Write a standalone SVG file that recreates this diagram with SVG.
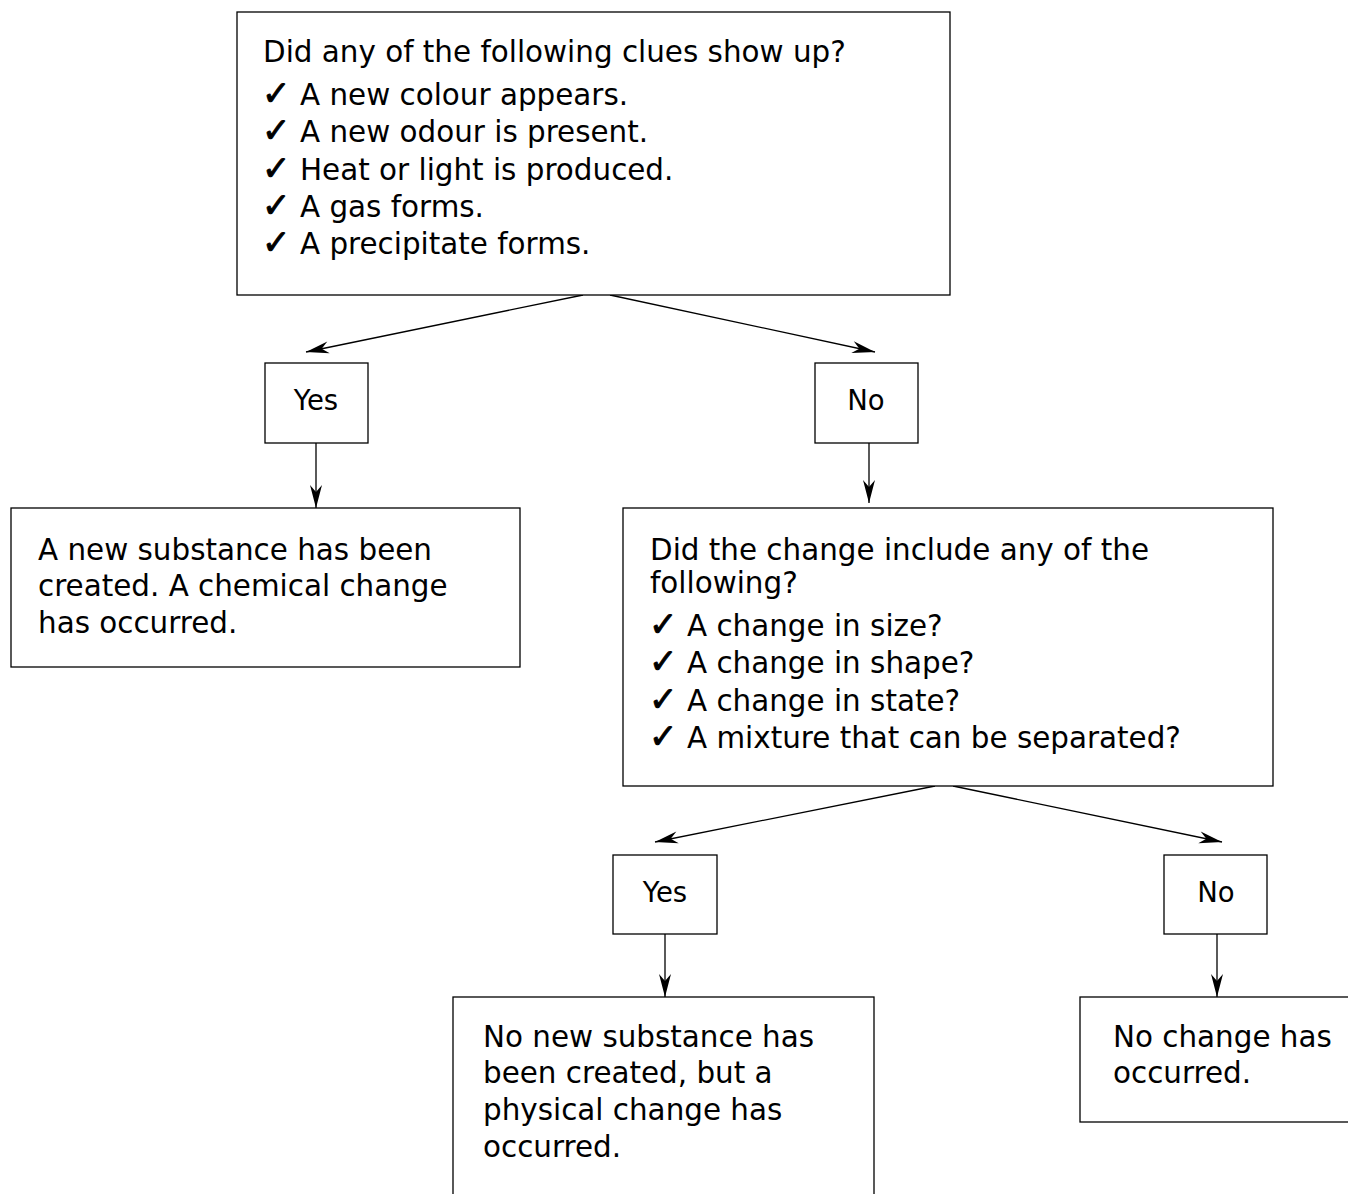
<svg xmlns="http://www.w3.org/2000/svg" width="1348" height="1194" viewBox="0 0 1348 1194">
<style>
  .box { fill: #ffffff; stroke: #000000; stroke-width: 1.3; }
  .t { font-family: "DejaVu Sans", Verdana, sans-serif; font-size: 29.4px; fill: #000000; }
  .ck { font-family: "DejaVu Sans", Verdana, sans-serif; font-size: 34px; stroke: #000000; stroke-width: 1; }
  .yn { font-family: "DejaVu Sans", Verdana, sans-serif; font-size: 27.5px; fill: #000000; text-anchor: middle; }
  .conn { stroke: #000000; stroke-width: 1.3; fill: none; marker-end: url(#arr); }
</style>
<defs>
  <marker id="arr" markerUnits="userSpaceOnUse" viewBox="-24 -7 25 14" refX="0" refY="0" markerWidth="25" markerHeight="14" orient="auto">
    <path d="M0,0 L-23,-6 L-16,0 L-23,6 Z" fill="#000000"/>
  </marker>
</defs>
<rect width="1348" height="1194" fill="#ffffff"/>

<g id="connectors">
  <line class="conn" x1="583" y1="295" x2="306" y2="352"/>
  <line class="conn" x1="610" y1="295" x2="875" y2="352"/>
  <line class="conn" x1="316" y1="443" x2="316" y2="508"/>
  <line class="conn" x1="869" y1="443" x2="869" y2="503"/>
  <line class="conn" x1="935" y1="786" x2="655" y2="842"/>
  <line class="conn" x1="953" y1="786" x2="1222" y2="842"/>
  <line class="conn" x1="665" y1="934" x2="665" y2="997"/>
  <line class="conn" x1="1217" y1="934" x2="1217" y2="997"/>
</g>

<g id="q1">
  <rect class="box" x="237" y="12" width="713" height="283"/>
  <text class="t" x="263" y="62">Did any of the following clues show up?</text>
  <text class="t" y="105"><tspan class="ck" x="262">✓</tspan><tspan x="300">A new colour appears.</tspan></text>
  <text class="t" y="142"><tspan class="ck" x="262">✓</tspan><tspan x="300">A new odour is present.</tspan></text>
  <text class="t" y="180"><tspan class="ck" x="262">✓</tspan><tspan x="300">Heat or light is produced.</tspan></text>
  <text class="t" y="217"><tspan class="ck" x="262">✓</tspan><tspan x="300">A gas forms.</tspan></text>
  <text class="t" y="254"><tspan class="ck" x="262">✓</tspan><tspan x="300">A precipitate forms.</tspan></text>
</g>

<g id="yes1">
  <rect class="box" x="265" y="363" width="103" height="80"/>
  <text class="yn" x="316" y="410">Yes</text>
</g>

<g id="no1">
  <rect class="box" x="815" y="363" width="103" height="80"/>
  <text class="yn" x="866" y="410">No</text>
</g>

<g id="chemical">
  <rect class="box" x="11" y="508" width="509" height="159"/>
  <text class="t" x="38" y="560">A new substance has been</text>
  <text class="t" x="38" y="596">created. A chemical change</text>
  <text class="t" x="38" y="633">has occurred.</text>
</g>

<g id="q2">
  <rect class="box" x="623" y="508" width="650" height="278"/>
  <text class="t" x="650" y="560">Did the change include any of the</text>
  <text class="t" x="650" y="593">following?</text>
  <text class="t" y="636"><tspan class="ck" x="649">✓</tspan><tspan x="687">A change in size?</tspan></text>
  <text class="t" y="673"><tspan class="ck" x="649">✓</tspan><tspan x="687">A change in shape?</tspan></text>
  <text class="t" y="711"><tspan class="ck" x="649">✓</tspan><tspan x="687">A change in state?</tspan></text>
  <text class="t" y="748"><tspan class="ck" x="649">✓</tspan><tspan x="687">A mixture that can be separated?</tspan></text>
</g>

<g id="yes2">
  <rect class="box" x="613" y="855" width="104" height="79"/>
  <text class="yn" x="665" y="902">Yes</text>
</g>

<g id="no2">
  <rect class="box" x="1164" y="855" width="103" height="79"/>
  <text class="yn" x="1216" y="902">No</text>
</g>

<g id="physical">
  <rect class="box" x="453" y="997" width="421" height="230"/>
  <text class="t" x="483" y="1047">No new substance has</text>
  <text class="t" x="483" y="1083">been created, but a</text>
  <text class="t" x="483" y="1120">physical change has</text>
  <text class="t" x="483" y="1157">occurred.</text>
</g>

<g id="nochange">
  <rect class="box" x="1080" y="997" width="300" height="125"/>
  <text class="t" x="1113" y="1047">No change has</text>
  <text class="t" x="1113" y="1083">occurred.</text>
</g>
</svg>
